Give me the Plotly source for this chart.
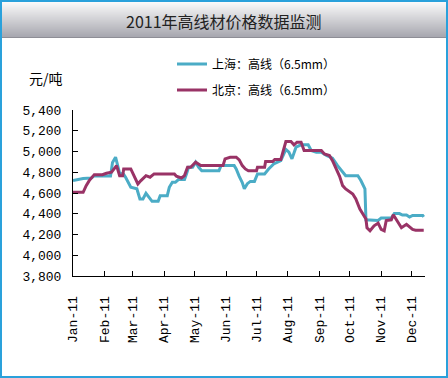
import plotly.graph_objects as go

title_text = "2011年高线材价格数据监测"
unit_text = "元/吨"
sh_name = "上海：高线（6.5mm）"
bj_name = "北京：高线（6.5mm）"

sh_dates = ["2011-01-01", "2011-01-11", "2011-01-19", "2011-01-22", "2011-02-07", "2011-02-09",
            "2011-02-12", "2011-02-14", "2011-02-16", "2011-02-20", "2011-02-22", "2011-02-27",
            "2011-03-05", "2011-03-08", "2011-03-11", "2011-03-14", "2011-03-17", "2011-03-20",
            "2011-03-26", "2011-03-28", "2011-04-04", "2011-04-06", "2011-04-09", "2011-04-12",
            "2011-04-15", "2011-04-21", "2011-04-23", "2011-04-25", "2011-04-29", "2011-05-02",
            "2011-05-05", "2011-05-08", "2011-05-25", "2011-05-27", "2011-06-09", "2011-06-11",
            "2011-06-14", "2011-06-17", "2011-06-19", "2011-06-22", "2011-06-25", "2011-06-29",
            "2011-07-02", "2011-07-09", "2011-07-13", "2011-07-18", "2011-07-25", "2011-07-30",
            "2011-08-02", "2011-08-05", "2011-08-09", "2011-08-14", "2011-08-21", "2011-08-24",
            "2011-08-29", "2011-09-03", "2011-09-08", "2011-09-14", "2011-09-19", "2011-09-24",
            "2011-09-27", "2011-10-09", "2011-10-12", "2011-10-16", "2011-10-17", "2011-10-29",
            "2011-11-01", "2011-11-11", "2011-11-14", "2011-11-19", "2011-11-22", "2011-11-26",
            "2011-11-29", "2011-12-02", "2011-12-12", "2011-12-13"]
sh_values = [4720, 4740, 4745, 4765, 4765, 4895,
             4945, 4870, 4790, 4780, 4750, 4655,
             4640, 4542, 4542, 4597, 4560, 4520,
             4520, 4574, 4574, 4655, 4703, 4703,
             4729, 4729, 4785, 4848, 4848, 4897,
             4848, 4815, 4815, 4864, 4864, 4832,
             4760, 4700, 4640, 4690, 4712, 4712,
             4784, 4784, 4832, 4880, 4912, 5020,
             4993, 4929, 5042, 5064, 5064, 5009,
             4993, 4993, 4961, 4935, 4864, 4800,
             4767, 4767, 4720, 4639, 4342, 4335,
             4358, 4358, 4402, 4402, 4387, 4387,
             4368, 4384, 4384, 4370]

bj_dates = ["2011-01-01", "2011-01-11", "2011-01-14", "2011-01-17", "2011-01-22", "2011-01-30",
            "2011-02-03", "2011-02-08", "2011-02-13", "2011-02-16", "2011-02-19", "2011-02-20",
            "2011-02-27", "2011-03-06", "2011-03-09", "2011-03-14", "2011-03-18", "2011-03-22",
            "2011-04-11", "2011-04-13", "2011-04-18", "2011-04-21", "2011-04-24", "2011-04-27",
            "2011-05-02", "2011-05-04", "2011-05-07", "2011-05-29", "2011-05-31", "2011-06-05",
            "2011-06-11", "2011-06-14", "2011-06-17", "2011-06-20", "2011-06-23", "2011-07-01",
            "2011-07-02", "2011-07-09", "2011-07-10", "2011-07-17", "2011-07-19", "2011-07-25",
            "2011-07-27", "2011-07-30", "2011-08-04", "2011-08-07", "2011-08-10", "2011-08-14",
            "2011-08-17", "2011-09-03", "2011-09-06", "2011-09-11", "2011-09-14", "2011-09-18",
            "2011-09-21", "2011-09-24", "2011-09-27", "2011-10-04", "2011-10-07", "2011-10-11",
            "2011-10-14", "2011-10-17", "2011-10-18", "2011-10-21", "2011-10-25", "2011-10-29",
            "2011-11-01", "2011-11-04", "2011-11-06", "2011-11-11", "2011-11-13", "2011-11-16",
            "2011-11-21", "2011-11-26", "2011-11-29", "2011-12-02", "2011-12-05", "2011-12-13"]
bj_values = [4607, 4607, 4671, 4719, 4777, 4777,
             4790, 4800, 4864, 4767, 4767, 4832,
             4832, 4687, 4720, 4767, 4752, 4784,
             4784, 4761, 4745, 4768, 4848, 4848,
             4897, 4880, 4864, 4864, 4929, 4945,
             4945, 4919, 4864, 4832, 4815, 4815,
             4848, 4848, 4903, 4903, 4922, 4922,
             4993, 5096, 5096, 5064, 5090, 5090,
             5009, 5009, 4977, 4961, 4912, 4832,
             4760, 4671, 4639, 4590, 4542, 4445,
             4397, 4349, 4265, 4236, 4284, 4310,
             4249, 4236, 4335, 4342, 4390, 4342,
             4265, 4298, 4270, 4249, 4242, 4242]

month_ticks = ["2011-01-01", "2011-02-01", "2011-03-01", "2011-04-01", "2011-05-01", "2011-06-01",
               "2011-07-01", "2011-08-01", "2011-09-01", "2011-10-01", "2011-11-01", "2011-12-01"]
y_ticks = [3800, 4000, 4200, 4400, 4600, 4800, 5000, 5200, 5400]

W, H = 448, 378
L, R, T, B = 73, 425, 110, 276

def px(x):
    return (x - L) / (R - L)

def py(y):
    return (B - y) / (B - T)

fig = go.Figure()
fig.add_trace(go.Scatter(x=sh_dates, y=sh_values, mode="lines", name=sh_name,
                         line=dict(color="#4BACC6", width=3), legend="legend"))
fig.add_trace(go.Scatter(x=bj_dates, y=bj_values, mode="lines", name=bj_name,
                         line=dict(color="#993366", width=3), legend="legend2"))

shapes = []
# title band gradient
top, bot = 2, 37
n = bot - top
c0 = (250, 250, 250)
c1 = (168, 168, 176)
for i in range(n):
    t = i / (n - 1)
    c = tuple(int(c0[k] + (c1[k] - c0[k]) * t) for k in range(3))
    shapes.append(dict(type="rect", xref="paper", yref="paper",
                       x0=px(2), x1=px(446), y0=py(top + i + 1), y1=py(top + i),
                       fillcolor="rgb(%d,%d,%d)" % c, line=dict(width=0), layer="below"))
shapes.append(dict(type="line", xref="paper", yref="paper", x0=px(2), x1=px(446),
                   y0=py(37.5), y1=py(37.5), line=dict(color="#8E8E96", width=1)))
# outer border
shapes.append(dict(type="rect", xref="paper", yref="paper", x0=px(1), x1=px(447),
                   y0=py(377), y1=py(1), line=dict(color="#2AA1DB", width=2)))

font_mono = "Liberation Mono"
font_cjk = "Noto Sans CJK SC"

fig.update_layout(
    width=W, height=H,
    margin=dict(l=L, r=W - R, t=T, b=H - B),
    paper_bgcolor="white", plot_bgcolor="white",
    shapes=shapes,
    showlegend=True,
    legend=dict(x=px(172), y=py(64), xanchor="left", yanchor="middle",
                font=dict(family=font_cjk, size=12, color="black"), bgcolor="rgba(0,0,0,0)"),
    legend2=dict(x=px(172), y=py(90), xanchor="left", yanchor="middle",
                 font=dict(family=font_cjk, size=12, color="black"), bgcolor="rgba(0,0,0,0)"),
    annotations=[
        dict(text=title_text, xref="paper", yref="paper", x=px(224), y=py(21),
             showarrow=False, xanchor="center", yanchor="middle",
             font=dict(family=font_cjk, size=16, color="#222222")),
        dict(text=unit_text, xref="paper", yref="paper", x=px(46), y=py(78),
             showarrow=False, xanchor="center", yanchor="middle",
             font=dict(family=font_cjk, size=14, color="black")),
    ],
    xaxis=dict(type="date", range=["2011-01-01", "2011-12-14 06:00"],
               tickvals=month_ticks, tickformat="%b-%y", tickangle=-90,
               ticks="inside", ticklen=5, tickcolor="black", showline=True,
               linecolor="black", linewidth=1, showgrid=False, zeroline=False,
               ticklabelstandoff=14,
               tickfont=dict(family=font_mono, size=13, color="black")),
    yaxis=dict(range=[3800, 5400], tickvals=y_ticks, tickformat=",d",
               ticks="inside", ticklen=5, tickcolor="black", showline=True,
               linecolor="black", linewidth=1, showgrid=False, zeroline=False,
               ticklabelstandoff=8,
               tickfont=dict(family=font_mono, size=13, color="black")),
)

fig.write_html("out.html", config={"displayModeBar": False},
               post_script="document.body.style.margin='0';document.body.style.overflow='hidden';")
